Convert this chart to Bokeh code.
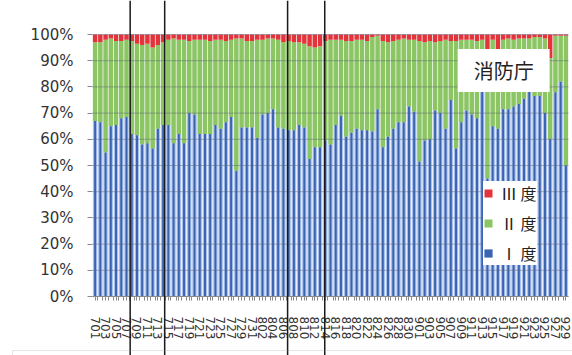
from bokeh.plotting import figure
from bokeh.models import (ColumnDataSource, FixedTicker, Legend, LegendItem,
                          Label, Range1d, Span, BoxAnnotation)
from bokeh.embed import file_html
from bokeh.resources import INLINE

# Days from 1 July to 29 September, labelled as "701", "702", ...
days = [f"{m}{d:02d}" for m, n in ((7, 31), (8, 31), (9, 29)) for d in range(1, n + 1)]

# Share of heat-stroke transports by severity (%), per day
grade1 = [67, 66.5, 55, 65, 65.5, 68, 68.5, 62, 61.5, 58,
          58.5, 56.5, 64, 65.5, 65.5, 58.5, 62, 58.5, 70, 69.5,
          62, 62, 62, 65.5, 64, 66.5, 68.5, 48, 64.5, 64.5,
          64.5, 60.5, 69.5, 70, 71.5, 64.5, 64, 63.5, 63.5, 65.5,
          64.5, 52.5, 57, 57, 59.5, 58, 65.5, 69, 61, 62.5,
          64, 63.5, 63.5, 63, 71.5, 57, 61, 64, 66.5, 66.5,
          72.5, 70.5, 51.5, 59.5, 60, 71, 70, 64, 75, 56.5,
          66.5, 71, 69.5, 68, 78.5, 45, 65, 64, 71.5, 71.5,
          72.5, 73.5, 75.5, 78.5, 76.5, 76.5, 70, 60, 78, 82,
          50]
grade3 = [3, 3, 2, 1.5, 2.5, 2.5, 2, 2.5, 3.5, 4,
          3.5, 5, 4, 3, 2, 1.5, 2, 2, 2.5, 2,
          2, 2, 2.5, 2, 2, 2.5, 2, 1.5, 1.5, 2.5,
          2.5, 2, 2, 1.5, 1.5, 2, 3, 2.5, 3, 3,
          3.5, 4.5, 5, 4.5, 2.5, 2, 2, 2, 2.5, 2.5,
          2, 2, 2.5, 1, 0.5, 2.5, 3, 2.5, 2, 1.5,
          2, 2, 2.5, 3, 2.5, 3, 2.5, 2, 2.5, 2.5,
          2, 2, 2, 2.5, 2, 6, 2, 7, 2, 1.5,
          2, 1.5, 1.5, 1.5, 1, 1, 1.5, 9, 0.5, 0.5,
          0.5]
grade2 = [round(100 - a - c, 2) for a, c in zip(grade1, grade3)]

series_names = ["Ⅰ 度", "Ⅱ 度", "Ⅲ 度"]
series_colors = ["#a9c1ea", "#8cc563", "#e3343c"]
core_color = "#3b63b0"

# Day positions (in day units) of the reference lines drawn across the chart
marker_days = [6.7, 13.3, 36.8, 43.9]

yticks = list(range(0, 101, 10))

# Canvas layout: the bar area sits at px 92..568 horizontally, 34..296 vertically.
W, H = 572, 355
area_left, area_right, area_top, area_bottom = 92, 568, 34, 296
n = len(days)
px_per_day = (area_right - area_left) / n
px_per_pct = (area_bottom - area_top) / 100
x_start = -0.5 - area_left / px_per_day
x_end = n - 0.5 + (W - area_right) / px_per_day
y_start = -(H - area_bottom) / px_per_pct
y_end = area_bottom / px_per_pct

x = list(range(n))
src = ColumnDataSource(dict(x=x, day=days, g1=grade1, g2=grade2, g3=grade3))

p = figure(width=W, height=H, output_backend="svg", toolbar_location=None,
           x_range=Range1d(x_start, x_end), y_range=Range1d(y_start, y_end),
           min_border=0, background_fill_color="white",
           border_fill_color="white", outline_line_color=None)

stack = p.vbar_stack(["g1", "g2", "g3"], x="x", width=0.86, source=src,
                     color=series_colors, line_color=None)
core = p.vbar(x="x", top="g1", bottom=0, width=0.38, source=src,
              fill_color=core_color, line_color=None)

# horizontal grid over the bars, limited to the bar area
p.xgrid.visible = False
p.ygrid.visible = False
p.segment(x0=[-0.5] * len(yticks), x1=[n - 0.5] * len(yticks), y0=yticks, y1=yticks,
          line_color="#55607a", line_alpha=0.45, line_width=1)

# y axis pinned to the left edge of the bars
p.yaxis.fixed_location = -0.5
p.yaxis.bounds = (0, 100)
p.yaxis.ticker = FixedTicker(ticks=yticks)
p.yaxis.major_label_overrides = {t: f"{t}%" for t in yticks}
p.yaxis.major_label_text_font = "DejaVu Sans"
p.yaxis.major_label_text_font_size = "15px"
p.yaxis.major_label_text_color = "#333333"
p.yaxis.major_label_standoff = 14
p.yaxis.major_tick_out = 5
p.yaxis.major_tick_in = 0
p.yaxis.minor_tick_line_color = None
p.yaxis.axis_line_color = None
p.yaxis.major_tick_line_color = "#8a8a8a"

# x axis pinned at 0%: a label every other day, small ticks between days
even = [i for i in x if i % 2 == 0]
p.xaxis.fixed_location = 0
p.xaxis.bounds = (-0.5, n - 0.5)
p.xaxis.ticker = FixedTicker(ticks=even, minor_ticks=[i + 0.5 for i in x[:-1]])
p.xaxis.major_label_overrides = {i: days[i] for i in even}
p.xaxis.major_label_orientation = "vertical"
p.xaxis.major_label_text_font = "DejaVu Sans"
p.xaxis.major_label_text_font_size = "12px"
p.xaxis.major_label_text_color = "#333333"
p.xaxis.major_label_standoff = 16
p.xaxis.major_tick_out = 4
p.xaxis.major_tick_in = 0
p.xaxis.minor_tick_out = 4
p.xaxis.minor_tick_in = 0
p.xaxis.axis_line_color = "#8a8a8a"
p.xaxis.major_tick_line_color = "#8a8a8a"
p.xaxis.minor_tick_line_color = "#8a8a8a"

legend = Legend(items=[LegendItem(label=series_names[2], renderers=[stack[2]]),
                       LegendItem(label=series_names[1], renderers=[stack[1]]),
                       LegendItem(label=series_names[0], renderers=[stack[0], core])],
                location=(483, H - 265), orientation="vertical",
                label_text_font="Noto Sans CJK JP", label_text_font_size="16px",
                label_text_color="#222222", label_height=18, label_standoff=8,
                glyph_height=10, glyph_width=10, spacing=6, padding=6, margin=0,
                background_fill_color="white", background_fill_alpha=1,
                border_line_color=None)
p.add_layout(legend, "center")

p.add_layout(Label(x=78.1, y=86.3, text="消防庁", text_align="center",
                   text_baseline="middle", text_font="Noto Sans CJK JP",
                   text_font_size="20px", text_color="#222222",
                   background_fill_color="white", background_fill_alpha=1,
                   padding=dict(left=16, right=16, top=7, bottom=7)))

# reference lines running across the whole chart
for d in marker_days:
    p.add_layout(Span(location=d, dimension="height", line_color="#1a1a1a",
                      line_width=1.5))

# outer chart border (left and top edges visible)
p.add_layout(BoxAnnotation(left=12, top=5, left_units="screen", top_units="screen",
                           fill_alpha=0, line_color="#a8a8a8", line_width=1))

open("out.html", "w").write(file_html(p, INLINE))
